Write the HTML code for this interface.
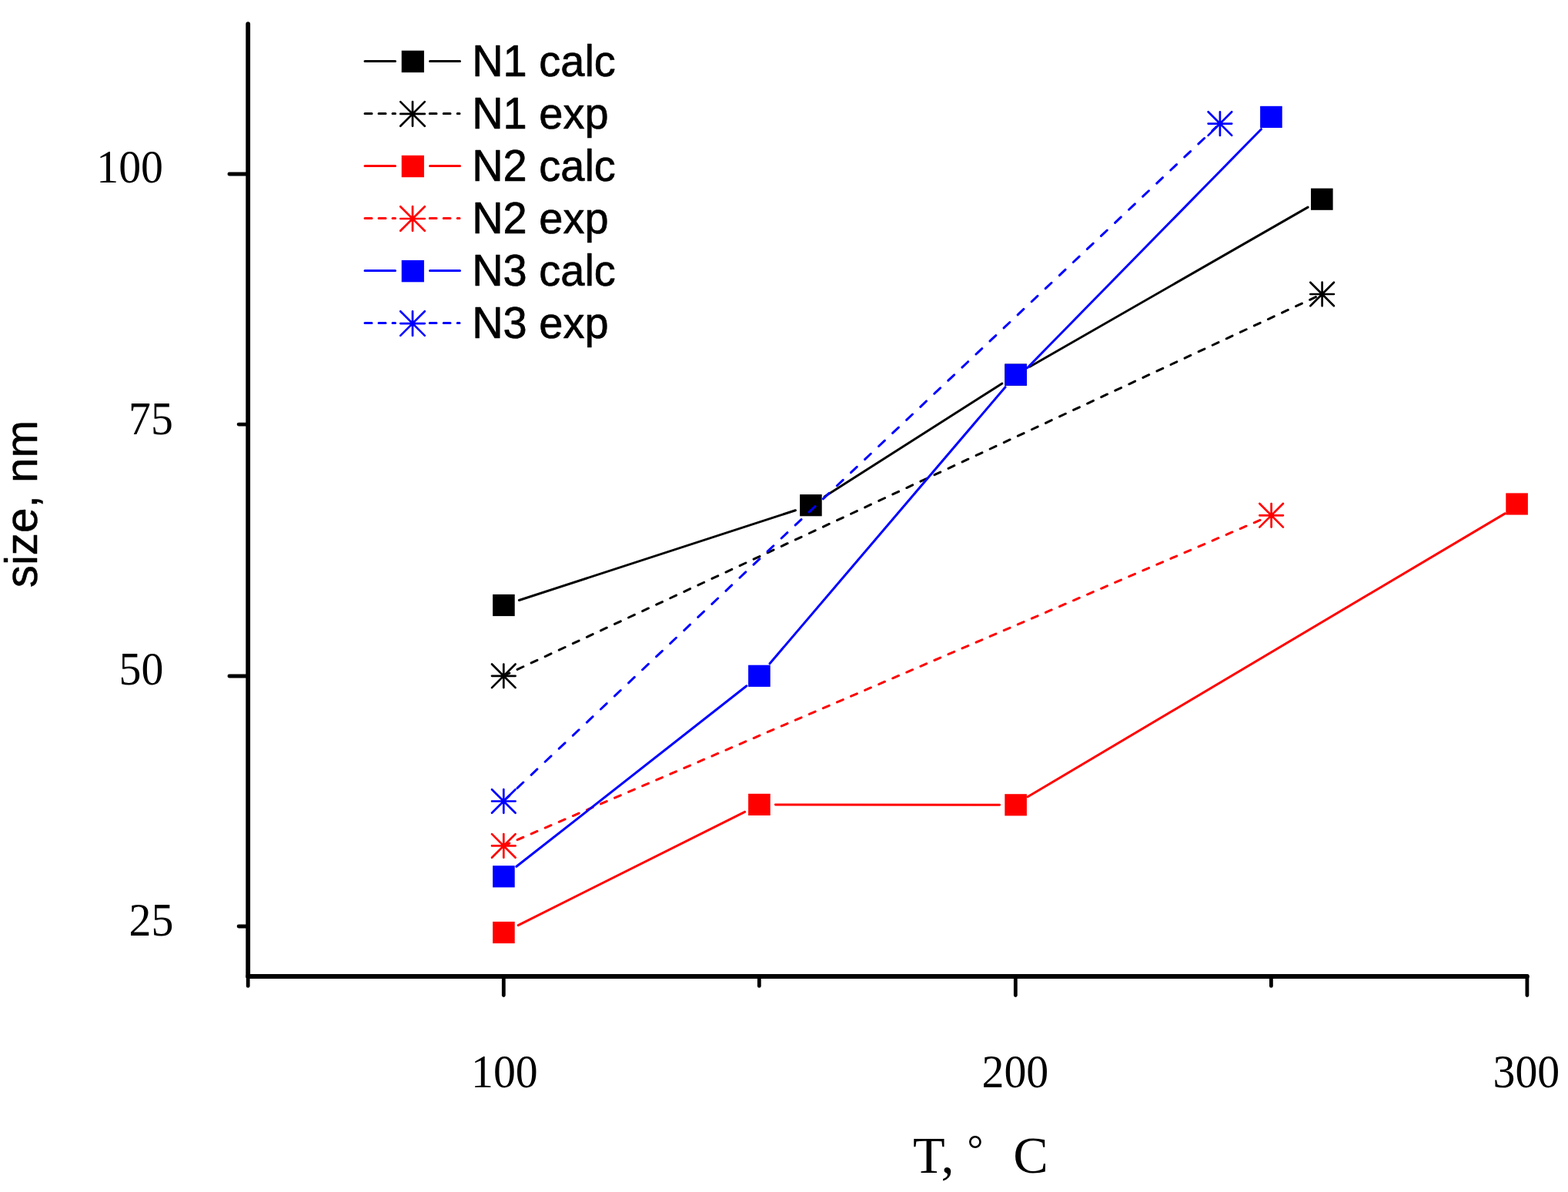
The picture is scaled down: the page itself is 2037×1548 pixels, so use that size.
<!DOCTYPE html>
<html lang="en"><head><meta charset="utf-8"><title>size vs T</title>
<style>
html,body{margin:0;padding:0;background:#fff;}
body{width:2037px;height:1548px;overflow:hidden;}
svg{display:block;}
.tk{font-family:"Liberation Serif",serif;font-size:61.5px;fill:#000;}
.tt{font-family:"Liberation Serif",serif;font-size:68.2px;fill:#000;}
.lg{font-family:"Liberation Sans",sans-serif;font-size:57.3px;fill:#000;stroke:#000;stroke-width:0.7px;stroke-linejoin:round;}
.yl{font-family:"Liberation Sans",sans-serif;font-size:59px;fill:#000;stroke:#000;stroke-width:0.5px;stroke-linejoin:round;}
</style></head><body>
<svg width="2037" height="1548" viewBox="0 0 2037 1548">
<rect width="2037" height="1548" fill="#fff"/>
<g stroke="#000" stroke-width="5.8" stroke-linecap="round" fill="none">
<path d="M322.2 31.1V1268.0"/>
<path d="M322.2 1268.0H1983.9"/>
</g>
<g stroke="#000" stroke-width="4.8" stroke-linecap="round" fill="none">
<path d="M322.2 1268.0V1280.4"/>
<path d="M654.3 1268.0V1292.5"/>
<path d="M986.3 1268.0V1280.4"/>
<path d="M1319.3 1268.0V1292.5"/>
<path d="M1651.4 1268.0V1280.4"/>
<path d="M1983.9 1268.0V1292.5"/>
<path d="M322.2 226H297.9"/>
<path d="M322.2 551.1H310.1"/>
<path d="M322.2 878H297.9"/>
<path d="M322.2 1203H310.1"/>
</g>
<g>
<line x1="674.4" y1="779.5" x2="1033.4" y2="662.7" stroke="#000000" stroke-width="3.0" stroke-linecap="round"/>
<line x1="1071.1" y1="644.9" x2="1301.9" y2="498.0" stroke="#000000" stroke-width="3.0" stroke-linecap="round"/>
<line x1="1337.8" y1="476.3" x2="1699.1" y2="269.1" stroke="#000000" stroke-width="3.0" stroke-linecap="round"/>
<rect x="640.1" y="771.9" width="28.6" height="28.2" fill="#000000"/>
<rect x="1039.1" y="642.1" width="28.6" height="28.2" fill="#000000"/>
<rect x="1305.3" y="472.6" width="28.6" height="28.2" fill="#000000"/>
<rect x="1703.0" y="244.6" width="28.6" height="28.2" fill="#000000"/>
</g>
<g>
<line x1="659.0" y1="875.5" x2="1712.3" y2="384.3" stroke="#000000" stroke-width="3.0" stroke-linecap="round" stroke-dasharray="8.61 11.32" stroke-dashoffset="5.50"/>
<path d="M639.0 877.8H669.6M654.3 862.5V893.1M639.0 862.5L669.6 893.1M639.0 893.1L669.6 862.5" stroke="#000000" stroke-width="2.7" stroke-linecap="round" fill="none"/>
<path d="M1702.3 382.0H1732.9M1717.6 366.7V397.3M1702.3 366.7L1732.9 397.3M1702.3 397.3L1732.9 366.7" stroke="#000000" stroke-width="2.7" stroke-linecap="round" fill="none"/>
</g>
<g>
<line x1="673.2" y1="1201.6" x2="967.6" y2="1054.3" stroke="#ff0000" stroke-width="3.0" stroke-linecap="round"/>
<line x1="1007.4" y1="1044.9" x2="1298.6" y2="1045.3" stroke="#ff0000" stroke-width="3.0" stroke-linecap="round"/>
<line x1="1335.1" y1="1034.8" x2="1955.2" y2="666.9" stroke="#ff0000" stroke-width="3.0" stroke-linecap="round"/>
<rect x="640.1" y="1196.9" width="28.6" height="28.2" fill="#ff0000"/>
<rect x="972.1" y="1030.8" width="28.6" height="28.2" fill="#ff0000"/>
<rect x="1305.3" y="1031.2" width="28.6" height="28.2" fill="#ff0000"/>
<rect x="1956.3" y="640.4" width="28.6" height="28.2" fill="#ff0000"/>
</g>
<g>
<line x1="659.1" y1="1096.2" x2="1646.2" y2="671.5" stroke="#ff0000" stroke-width="3.0" stroke-linecap="round" stroke-dasharray="8.49 11.17" stroke-dashoffset="5.50"/>
<path d="M639.0 1098.4H669.6M654.3 1083.1V1113.7M639.0 1083.1L669.6 1113.7M639.0 1113.7L669.6 1083.1" stroke="#ff0000" stroke-width="2.7" stroke-linecap="round" fill="none"/>
<path d="M1636.3 669.3H1666.9M1651.6 654.0V684.6M1636.3 654.0L1666.9 684.6M1636.3 684.6L1666.9 654.0" stroke="#ff0000" stroke-width="2.7" stroke-linecap="round" fill="none"/>
</g>
<g>
<line x1="670.9" y1="1125.3" x2="969.9" y2="890.8" stroke="#0000ff" stroke-width="3.0" stroke-linecap="round"/>
<line x1="1000.0" y1="861.8" x2="1306.0" y2="502.7" stroke="#0000ff" stroke-width="3.0" stroke-linecap="round"/>
<line x1="1334.6" y1="477.7" x2="1638.5" y2="167.7" stroke="#0000ff" stroke-width="3.0" stroke-linecap="round"/>
<rect x="640.1" y="1124.2" width="28.6" height="28.2" fill="#0000ff"/>
<rect x="972.1" y="863.7" width="28.6" height="28.2" fill="#0000ff"/>
<rect x="1305.3" y="472.6" width="28.6" height="28.2" fill="#0000ff"/>
<rect x="1637.1" y="137.8" width="28.6" height="28.2" fill="#0000ff"/>
</g>
<g>
<line x1="658.0" y1="1036.7" x2="1580.6" y2="164.4" stroke="#0000ff" stroke-width="3.0" stroke-linecap="round" stroke-dasharray="10.73 14.12" stroke-dashoffset="5.50"/>
<path d="M639.0 1040.5H669.6M654.3 1025.2V1055.8M639.0 1025.2L669.6 1055.8M639.0 1055.8L669.6 1025.2" stroke="#0000ff" stroke-width="2.7" stroke-linecap="round" fill="none"/>
<path d="M1569.6 160.6H1600.2M1584.9 145.3V175.9M1569.6 145.3L1600.2 175.9M1569.6 175.9L1600.2 145.3" stroke="#0000ff" stroke-width="2.7" stroke-linecap="round" fill="none"/>
</g>
<path d="M474 79.40H513.5M558.5 79.40H597.5" stroke="#000000" stroke-width="3.0" stroke-linecap="round" fill="none"/>
<rect x="521.7" y="65.7" width="29.2" height="28.4" fill="#000000"/>
<text class="lg" transform="translate(613.2 98.50) scale(0.977 1)">N1 calc</text>
<path d="M474 147.44H483M492 147.44H501M510 147.44H513.5M558.2 147.44H567M576.2 147.44H585M594.2 147.44H597" stroke="#000000" stroke-width="3.0" stroke-linecap="round" fill="none"/>
<path d="M520.2 147.9H551.8M536.0 132.1V163.7M520.2 132.1L551.8 163.7M520.2 163.7L551.8 132.1" stroke="#000000" stroke-width="2.7" stroke-linecap="round" fill="none"/>
<text class="lg" transform="translate(613.2 166.65) scale(0.977 1)">N1 exp</text>
<path d="M474 215.48H513.5M558.5 215.48H597.5" stroke="#ff0000" stroke-width="3.0" stroke-linecap="round" fill="none"/>
<rect x="521.7" y="201.8" width="29.2" height="28.4" fill="#ff0000"/>
<text class="lg" transform="translate(613.2 234.80) scale(0.977 1)">N2 calc</text>
<path d="M474 283.52H483M492 283.52H501M510 283.52H513.5M558.2 283.52H567M576.2 283.52H585M594.2 283.52H597" stroke="#ff0000" stroke-width="3.0" stroke-linecap="round" fill="none"/>
<path d="M520.2 284.0H551.8M536.0 268.2V299.8M520.2 268.2L551.8 299.8M520.2 299.8L551.8 268.2" stroke="#ff0000" stroke-width="2.7" stroke-linecap="round" fill="none"/>
<text class="lg" transform="translate(613.2 302.95) scale(0.977 1)">N2 exp</text>
<path d="M474 351.56H513.5M558.5 351.56H597.5" stroke="#0000ff" stroke-width="3.0" stroke-linecap="round" fill="none"/>
<rect x="521.7" y="337.9" width="29.2" height="28.4" fill="#0000ff"/>
<text class="lg" transform="translate(613.2 371.10) scale(0.977 1)">N3 calc</text>
<path d="M474 419.60H483M492 419.60H501M510 419.60H513.5M558.2 419.60H567M576.2 419.60H585M594.2 419.60H597" stroke="#0000ff" stroke-width="3.0" stroke-linecap="round" fill="none"/>
<path d="M520.2 420.1H551.8M536.0 404.3V435.9M520.2 404.3L551.8 435.9M520.2 435.9L551.8 404.3" stroke="#0000ff" stroke-width="2.7" stroke-linecap="round" fill="none"/>
<text class="lg" transform="translate(613.2 439.25) scale(0.977 1)">N3 exp</text>
<text class="tk" transform="translate(125.3 237.1) scale(0.94 1)">100</text>
<text class="tk" transform="translate(167.1 563.9) scale(0.94 1)">75</text>
<text class="tk" transform="translate(154.6 889.1) scale(0.94 1)">50</text>
<text class="tk" transform="translate(167.5 1214.5) scale(0.94 1)">25</text>
<text class="tk" transform="translate(612.0 1411.9) scale(0.94 1)">100</text>
<text class="tk" transform="translate(1275.5 1412.1) scale(0.94 1)">200</text>
<text class="tk" transform="translate(1939.5 1412.1) scale(0.94 1)">300</text>
<text class="tt" y="1523.4"><tspan x="1186">T,</tspan><tspan x="1245"> </tspan><tspan x="1256.6" y="1509.5" font-size="52">°</tspan><tspan x="1300" y="1523.4"> </tspan><tspan x="1316.3">C</tspan></text>
<text class="yl" transform="translate(48.1 763.3) rotate(-90) scale(0.99 1)">size, nm</text>
</svg></body></html>
